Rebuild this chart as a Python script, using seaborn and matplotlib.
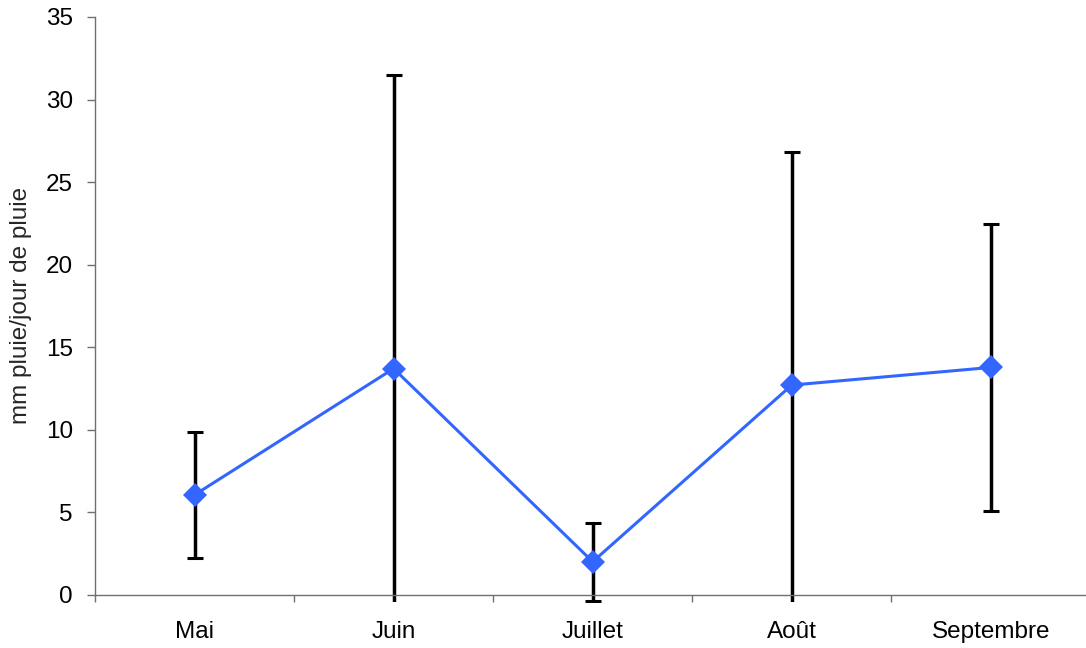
import numpy as np
import pandas as pd
import matplotlib
matplotlib.use("Agg")
import matplotlib.pyplot as plt
from matplotlib.patches import Rectangle
from matplotlib.ticker import FixedLocator
import seaborn as sns

# Mean rainfall per rainy day and its spread, by month
months = ["Mai", "Juin", "Juillet", "Août", "Septembre"]
mean_mm = [6.05, 13.7, 2.0, 12.7, 13.77]
spread_mm = [3.8, 17.8, 2.35, 14.1, 8.69]
y_ticks = [0, 5, 10, 15, 20, 25, 30, 35]

sns.set_theme(style="white")
plt.rcParams["font.family"] = ["Liberation Sans", "DejaVu Sans"]

df = pd.DataFrame({"mois": months, "mm": mean_mm, "err": spread_mm})
pos = np.arange(len(months))

fig = plt.figure(figsize=(10.86, 6.48), dpi=100)
ax = fig.add_axes([0.0875, 0.0822, 0.9165, 0.8916])

# Vertical error bars, clipped a few pixels below the x axis
eb = ax.errorbar(pos, df["mm"], yerr=df["err"], fmt="none", ecolor="black",
                 elinewidth=2.5, capsize=5.8, capthick=2.2, zorder=2)
clip = Rectangle((0, -0.012), 1, 1.05, transform=ax.transAxes,
                 facecolor="none", edgecolor="none")
for artist in list(eb.lines[1]) + list(eb.lines[2]):
    artist.set_clip_path(clip)

sns.lineplot(x=pos, y=df["mm"], ax=ax, color="#3366FF", linewidth=2.2,
             marker="D", markersize=12, markeredgewidth=0, zorder=3)

ax.set_xlim(-0.5, len(months) - 0.5)
ax.set_ylim(0, 35)
ax.set_yticks(y_ticks)
ax.set_xticks(pos)
ax.set_xticklabels(months)
ax.xaxis.set_minor_locator(FixedLocator(np.arange(-0.5, len(months), 1.0)))

ax.set_xlabel("")
ax.set_ylabel("mm pluie/jour de pluie", fontsize=17.5, labelpad=10)

for side in ["top", "right"]:
    ax.spines[side].set_visible(False)
for side in ["left", "bottom"]:
    ax.spines[side].set_color("#707070")
    ax.spines[side].set_linewidth(1.0)

ax.tick_params(axis="y", which="major", direction="out", length=6, width=1,
               color="#707070", pad=10, labelsize=17.5, labelcolor="black",
               left=True)
ax.tick_params(axis="x", which="major", length=0, pad=19, labelsize=17.5,
               labelcolor="black")
ax.tick_params(axis="x", which="minor", direction="out", length=5, width=1,
               color="#707070", bottom=True)

fig.savefig("out.png", dpi=100)
